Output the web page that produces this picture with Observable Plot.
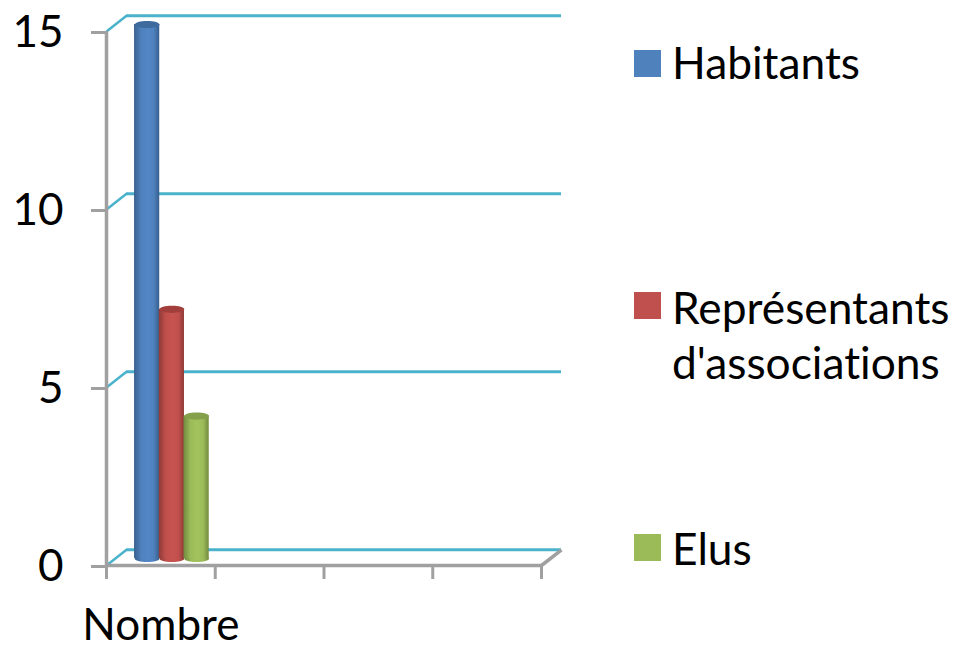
<!DOCTYPE html>
<html>
<head>
<meta charset="utf-8">
<script src="https://cdn.jsdelivr.net/npm/d3@7"></script>
<script src="https://cdn.jsdelivr.net/npm/@observablehq/plot@0.6"></script>
<style>
  html, body { margin: 0; padding: 0; background: #fff; }
  #wrap { position: relative; width: 955px; height: 645px; overflow: hidden; font-family: Lato, "Open Sans", sans-serif; color: #000; font-variant-ligatures: none; }
  #wrap svg { position: absolute; left: 0; top: 0; overflow: visible; font-variant-ligatures: none; }
  .lg { position: absolute; left: 672px; font-size: 44.3px; line-height: 55px; white-space: nowrap; }
  .sw { position: absolute; left: 634px; width: 27px; height: 27px; }
</style>
</head>
<body>
<div id="wrap"></div>
<script>
const categories = ["Nombre"];
const seriesNames = ["Habitants", "Représentants\nd'associations", "Elus"];
const seriesValues = [15, 7, 4];
const seriesColors = ["#4f81bd", "#c0504d", "#9bbb59"];
const seriesEdges = ["#375f8e", "#8f3a37", "#718a3e"];
const seriesTops = ["#3f6a9e", "#a23f3c", "#84a04a"];
const yTicks = [0, 5, 10, 15];
const xSlots = [0, 1, 2, 3, 4];

const gridColor = "#4bb2cc";
const axisColor = "#a0a0a0";
const depthX = 0.184, depthY = 0.44;
const barStart = 0.258, barWidth = 0.2275;

const ellipse = (rx, ry) => ({
  draw(c) {
    const k = 0.5523;
    c.moveTo(-rx, 0);
    c.bezierCurveTo(-rx, -ry * k, -rx * k, -ry, 0, -ry);
    c.bezierCurveTo(rx * k, -ry, rx, -ry * k, rx, 0);
    c.bezierCurveTo(rx, ry * k, rx * k, ry, 0, ry);
    c.bezierCurveTo(-rx * k, ry, -rx, ry * k, -rx, 0);
    c.closePath();
  }
});

const defs = () => {
  const d = d3.create("svg:defs");
  seriesColors.forEach((col, i) => {
    const g = d.append("linearGradient").attr("id", "bar" + i).attr("x1", 0).attr("x2", 1).attr("y1", 0).attr("y2", 0);
    [[0, seriesEdges[i]], [0.28, col], [0.55, d3.color(col).brighter(0.12).formatHex()], [0.78, col], [1, seriesEdges[i]]]
      .forEach(([o, c]) => g.append("stop").attr("offset", o).attr("stop-color", c));
  });
  return d.node();
};

const barMarks = seriesValues.flatMap((v, i) => {
  const x1 = barStart + i * barWidth, x2 = x1 + barWidth + 0.004;
  const cx = (x1 + x2) / 2;
  return [
    Plot.dot([0], { x: () => cx, y: () => 0, r: 5, dy: -7, fill: `url(#bar${i})`, stroke: null, symbol: ellipse(12.4, 3.6) }),
    Plot.rect([v], { x1: () => x1, x2: () => x2, y1: () => 0, y2: d => d, dy: -7, fill: `url(#bar${i})` }),
    Plot.dot([v], { x: () => cx, y: d => d, r: 5, dy: -7, fill: seriesTops[i], stroke: null, symbol: ellipse(12.4, 3.6) })
  ];
});

const plot = Plot.plot({
  width: 955,
  height: 645,
  marginLeft: 106,
  marginRight: 414,
  marginTop: 31,
  marginBottom: 80,
  style: { fontFamily: "Lato, 'Open Sans', sans-serif", background: "transparent", overflow: "visible" },
  x: { domain: [0, 4], axis: null },
  y: { domain: [0, 15], axis: null },
  marks: [
    defs,
    Plot.ruleY(yTicks, { y: d => d + depthY, x1: depthX, x2: 4 + depthX, stroke: gridColor, strokeWidth: 3 }),
    Plot.link(yTicks, { x1: 0, y1: d => d, x2: depthX, y2: d => d + depthY, stroke: gridColor, strokeWidth: 2.5 }),
    Plot.link([0], { x1: 4, y1: 0, x2: 4 + depthX, y2: depthY, stroke: axisColor, strokeWidth: 3.5 }),
    Plot.ruleX([0], { y1: 0, y2: 15, stroke: axisColor, strokeWidth: 3.5 }),
    Plot.ruleY([0], { x1: 0, x2: 4, stroke: axisColor, strokeWidth: 3.5 }),
    Plot.axisY({ ticks: yTicks, tickSize: 15, tickPadding: 28, fontSize: 44, stroke: axisColor, strokeWidth: 3, color: "#000", label: null, tickFormat: d => String(d), dy: 1 }),
    Plot.axisX({ ticks: xSlots, tickSize: 14, stroke: axisColor, strokeWidth: 3, label: null, tickFormat: () => "" }),
    Plot.text(categories, { x: 0.5, y: 0, text: d => d, dy: 60, fontSize: 44, fill: "#000" }),
    ...barMarks
  ]
});

const wrap = document.getElementById("wrap");
wrap.appendChild(plot);

const swatchTops = [50, 292, 534];
const labelTops = [34, 279, 520];
seriesNames.forEach((name, i) => {
  const s = document.createElement("div");
  s.className = "sw";
  s.style.top = swatchTops[i] + "px";
  s.style.background = seriesColors[i];
  wrap.appendChild(s);
  const t = document.createElement("div");
  t.className = "lg";
  t.style.top = labelTops[i] + "px";
  t.innerHTML = name.split("\n").join("<br>");
  wrap.appendChild(t);
});
</script>
</body>
</html>
